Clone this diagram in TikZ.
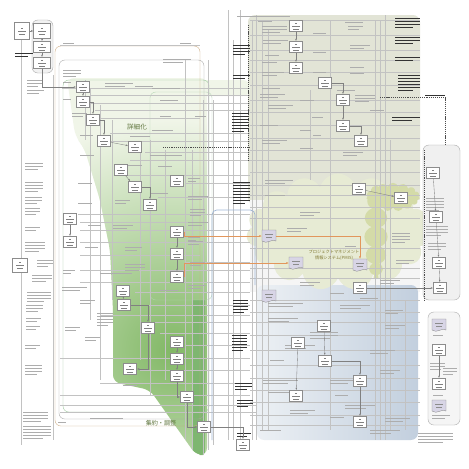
\documentclass[tikz,border=0pt]{standalone}
\usepackage{fontspec}
\newfontfamily\jp{Noto Sans CJK JP}
\usetikzlibrary{shapes.symbols,arrows.meta,positioning}

\definecolor{grnD}{RGB}{130,184,102}
\definecolor{grnL}{RGB}{240,245,232}
\definecolor{grnS}{RGB}{126,182,112}
\definecolor{greyreg}{RGB}{226,228,214}
\definecolor{bluereg}{RGB}{194,207,222}
\definecolor{bluelt}{RGB}{236,240,244}
\definecolor{cloudA}{RGB}{231,235,212}
\definecolor{cloudB}{RGB}{212,219,168}
\definecolor{tanline}{RGB}{205,172,128}
\definecolor{orngline}{RGB}{226,150,92}
\definecolor{bluline}{RGB}{160,183,214}
\definecolor{docfill}{RGB}{216,213,230}
\definecolor{lblgreen}{RGB}{96,118,62}

% grey strokes standing for the small, unreadable texts
\newcommand\txtbars[5][txt]{%
  \foreach \k in {1,...,#5}{\draw[#1] (#2,{#3+3*(\k-1)}) -- ++({#4*ifthenelse(\k==#5,0.7,1)},0);}}

\tikzset{docu/.pic={
  \draw[black!45,fill=docfill,line width=0.3pt] (-7,-6) -- (7,-6) -- (7,5) .. controls (3,2) and (-2,9) .. (-7,5) -- cycle;
  \draw[black!45,line width=0.4pt] (-4,-2) -- (4,-2) (-3,1) -- (3,1);
  \coordinate (-w) at (-7,0); \coordinate (-e) at (7,0); \coordinate (-n) at (0,-6);
}}

\begin{document}
\begin{tikzpicture}[x=0.03cm,y=-0.03cm,
  txt/.style={black!32,line width=0.5pt},
  dtxt/.style={black!80,line width=0.65pt},
  proc/.style={draw=black!45,fill=white,line width=0.3pt,minimum width=0.4cm,minimum height=0.34cm,inner sep=0pt,
    path picture={\draw[black!50,line width=0.4pt]
      ([xshift=-1pt,yshift=2.6pt]path picture bounding box.center) -- ++(2pt,0)
      ([xshift=-3.2pt]path picture bounding box.center) -- ++(6.4pt,0)
      ([xshift=-2.6pt,yshift=-2.4pt]path picture bounding box.center) -- ++(5.2pt,0);}},
  conn/.style={black!50,line width=0.3pt,-{Latex[length=0.7mm,width=0.5mm]}},
  hline/.style={black!24,line width=0.2pt},
  frame/.style={black!35,line width=0.3pt,rounded corners=5pt},
  orng/.style={orngline,line width=0.5pt,-{Latex[length=0.8mm,width=0.6mm]}},
  dashln/.style={black!70,line width=0.45pt,dash pattern=on 1pt off 0.8pt},
  puff/.style={cloud,cloud puffs=15,cloud ignores aspect,draw=none,inner sep=0pt}]
\useasboundingbox (0,0) rectangle (469,469);
\fill[white] (0,0) rectangle (469,469);

% areas on the right
\fill[greyreg,rounded corners=6pt] (248,15) rectangle (420,205);
\fill[black!4] (250,200) rectangle (420,292);
\shade[left color=bluelt,right color=bluereg,rounded corners=6pt] (257,285) rectangle (418,440);
\node[puff,fill=cloudA,minimum width=5.5cm,minimum height=3.5cm] (pmiscloud) at (338,232) {};
\node[puff,fill=cloudB,minimum width=0.7cm,minimum height=2.8cm] (cloudv) at (376,232) {};
\node[puff,fill=cloudB,minimum width=1.6cm,minimum height=0.85cm] (cloudh) at (393,197) {};
\draw[frame,fill=black!6] (423,145) rectangle (460,300);
\draw[frame,fill=black!4] (428,312) rectangle (460,425);

% green area
\begin{scope}
\clip[rounded corners=6pt] (67,78) -- (207,78) -- (207,455) -- (196,455) -- (150,390) -- (113,382)
  -- (113,310) -- (110,250) -- (100,200) -- (85,150) -- (75,135) -- cycle;
\fill[grnL] (0,0) rectangle (469,469);
\shade[inner color=grnD,outer color=grnL] (172,350) circle (230);
\fill[grnS] (192,300) rectangle (205,455);
\end{scope}
\fill[grnL,rounded corners=6pt] (150,80) rectangle (250,96);

% frames
\draw[frame,fill=black!5] (32,20) rectangle (53,73);
\draw[frame,tanline] (55,46) rectangle (200,426);
\draw[frame] (59,60) rectangle (204,419);
\draw[frame,green!45!black!40] (63,80) rectangle (209,412);
\draw[frame,green!45!black!30] (150,92) rectangle (212,300);

% lines
\foreach \y/\a/\b in {45/60/200,88/62/250,95/90/250,103/90/250,110/95/250,118/100/200,133/110/250,
  141/111/250,152/145/250,160/130/250,175/128/250,183/185/250,197/158/250,214/78/250,222/80/195,
  230/80/250,242/80/250,255/80/200,262/185/250,270/80/250,282/80/250,292/135/250,305/135/250,
  315/100/250,322/155/250,333/160/250,345/185/250,358/60/250,370/140/250,383/100/250,395/60/250,
  405/60/257,412/60/257}
  \draw[hline] (\a,\y) -- (\b,\y);
\foreach \y in {20,35,50,60,72,85,100,112,125,138,150,160,172,185,195,207,218,248,268,278,
  300,312,322,335,350,365,378,390,402,415,425}
  \draw[hline] (250,\y) -- (420,\y);
\foreach \x/\a/\b in {21/40/445,53/75/440,85/80/140,90/88/320,100/105/380,112/120/300,140/150/360,
  150/140/395,165/150/380,185/60/440,192/150/450,203/100/455,208/60/450,213/100/445,228/10/440,
  233/40/440,240/10/440,252/20/440,256/15/440,262/20/430,268/30/430,310/90/180,330/20/430,
  375/20/440,380/20/440,385/15/440,390/140/430,405/300/430}
  \draw[hline] (\x,\a) -- (\x,\b);
\draw[bluline,line width=0.6pt,rounded corners=4pt] (212,440) |- (255,210) -- (255,285);
\draw[dashln] (163,147) -- (250,147);
\draw[dashln] (380,97) -- (445,97) -- (445,145);
\draw[dashln] (424,150) -- (424,300);
\draw[dashln] (248,25) -- (248,160);

% small texts
\foreach \x/\y/\w/\n in {27/80/16/3,27/90/17/2,25/163/18/3,25/182/18/4,25/197/17/3,25/208/15/3,
  25/227/15/2,25/242/20/4,37/260/16/3,32/275/20/3,27/292/24/4,26/305/17/3,26/318/15/2,26/326/14/2,
  25/345/15/2,25/365/17/4,23/412/25/4,23/426/28/5,
  63/43/15/1,63/70/18/3,63/82/12/1,105/83/28/2,135/86/25/1,63/99/12/1,72/113/15/2,80/135/18/1,
  130/136/28/1,80/155/20/1,128/165/20/1,78/183/20/1,78/203/20/1,115/200/15/2,113/225/20/2,
  88/225/18/1,85/247/18/1,125/247/17/2,125/264/20/3,100/273/45/1,63/270/12/2,62/287/25/2,
  80/300/15/2,97/313/16/5,65/327/15/2,85/337/15/2,123/385/20/1,90/418/47/1,58/422/12/1,
  180/43/15/1,163/59/28/2,152/88/40/1,160/100/25/1,160/116/15/1,195/116/15/1,152/130/30/1,
  150/155/45/1,158/166/20/1,188/178/12/2,150/193/25/1,188/196/20/2,190/209/15/3,188/222/20/2,
  188/237/12/2,188/241/15/2,190/262/15/2,188/285/18/2,160/290/25/1,
  237/16/75/1,258/21/20/1,262/26/25/3,263/40/25/2,265/55/20/1,262/62/22/1,262/72/22/2,
  262/88/25/1,260/94/25/2,268/105/25/2,300/100/20/1,260/125/25/1,300/130/15/1,262/140/25/2,
  300/148/18/1,345/22/25/1,348/26/15/2,313/33/18/1,313/52/18/1,313/72/18/1,350/45/20/2,
  350/67/20/1,350/73/20/1,337/90/25/1,355/95/20/3,370/110/20/1,343/152/20/2,312/117/15/1,
  313/135/12/1,265/180/28/2,265/195/28/1,287/228/20/2,300/212/20/2,345/246/15/1,300/282/20/2,
  330/293/20/1,392/233/18/4,396/260/18/2,380/280/20/2,
  426/175/18/1,426/198/18/5,426/226/22/4,428/243/18/3,433/335/14/1,430/363/15/3,443/368/14/3,
  433/395/14/1,432/415/18/2,418/433/35/4,
  268/303/35/2,268/318/30/2,285/345/30/2,270/360/20/1,263/380/35/2,268/392/30/1,290/410/25/2,
  260/430/30/1,310/332/28/3,340/305/30/2,360/298/25/1,385/310/18/2,385/325/20/2,370/350/25/2,
  380/370/20/2,330/380/25/2,335/395/18/1,345/405/30/2,330/417/20/1,385/418/25/2,370/430/30/2}
  {\txtbars{\x}{\y}{\w}{\n}}
\foreach \x/\y/\w/\n in {15/53/18/2,233/45/17/4,233/75/17/2,232/113/17/7,233/182/17/8,233/300/15/5,
  232/335/15/6,235/383/17/3,237/400/16/3,237/433/14/2,395/18/25/4,395/37/25/3,395/57/25/2,
  398/75/22/6,392/117/28/2,425/95/28/1}
  {\txtbars[dtxt]{\x}{\y}{\w}{\n}}

% process boxes
\node[proc,minimum width=0.45cm,minimum height=0.5cm] (a1) at (22,31) {};
\node[proc,minimum width=0.5cm,minimum height=0.45cm] (a2) at (42,31) {};
\node[proc,minimum width=0.5cm] (a3) at (42,47) {};
\node[proc,minimum width=0.5cm] (a4) at (42,63) {};
\node[proc,minimum width=0.45cm,minimum height=0.42cm] (lbox) at (20,265) {};
\foreach \n/\x/\y in {p1/83/87,p2/83/102,p3/93/120,p4/104/141,p5/135/147,p6/121/170,p7/135/187,
  p8/150/205,p9/70/219,p10/70/242,p11/123/291,p12/124/305,p13/148/328,p14/130/369,
  q1/177/181,q3/177/232,q4/177/254,q5/177/277,q6/177/342,q7/177/359,q8/177/376,q9/187/397,
  q10/204/427,q11/243/445,
  r1/296/26,r2/296/47,r3/296/68,r4/325/83,r5/343/100,r6/343/126,r7/361/141,r8/359/189,
  r9/401/198,r10/433/173,r11/436/217,r12/439/263,r13/360/288,r14/440/288,
  s1/298/343,s2/296/396,s3/324/326,s4/325/361,s5/360/381,s6/360/422,t1/439/350,t2/439/384}
  \node[proc] (\n) at (\x,\y) {};
\pic (d1) at (269,236) {docu};
\pic (d2) at (296,263) {docu};
\pic (d3) at (269,296) {docu};
\pic (d4) at (360,265) {docu};
\pic (d5) at (439,325) {docu};
\pic (d6) at (439,406) {docu};

% connectors
\draw[conn] (a1) -- (a2);
\draw[conn] (a2) -- (a3);
\draw[conn] (a3) -- (a4);
\draw[conn] (a4.south) |- (p1.west);
\draw[conn] (p1) -- (p2);
\draw[conn] (p2.east) -| (p3.north);
\draw[conn] (p3.east) -| (p4.north);
\draw[conn] (p4) -- (p5);
\draw[conn] (p6) -- (p7);
\draw[conn] (p7.east) -| (p8.north);
\draw[conn] (p9) -- (p10);
\draw[conn] (p11) -- (p12);
\draw[conn] (p12.east) -| (p13.north);
\draw[conn] (p13.south) |- (p14.east);
\draw[conn] (q3) -- (q4);
\draw[conn] (q4) -- (q5);
\draw[conn] (q6) -- (q7);
\draw[conn] (q7) -- (q8);
\draw[conn] (q8.south) |- (q9.west);
\draw[conn] (q9.south) |- (q10.west);
\draw[conn] (q10.east) -| (q11.north);
\draw[conn] (r1) -- (r2);
\draw[conn] (r2) -- (r3);
\draw[conn] (r4.east) -| (r5.north);
\draw[conn] (r5) -- (r6);
\draw[conn] (r6.east) -| (r7.north);
\draw[conn] (r8) -- (r9);
\draw[conn] (r10) -- (r11);
\draw[conn] (r11) -- (r12);
\draw[conn] (r12) -- (r14);
\draw[conn] (r13) -- (r14);
\draw[conn] (s1) -- (s2);
\draw[conn] (s3) -- (s4);
\draw[conn] (s4.east) -| (s5.north);
\draw[conn] (s5) -- (s6);
\draw[conn] (t1) -- (t2);
\draw[orng] (q3.east) |- (d1-w);
\draw[orng] (q5.east) |- (d2-w);
\draw[orng] (d1-e) -| (d4-n);

% labels
\node[font=\jp\fontsize{5.6}{6}\selectfont,text=lblgreen] (shousai) at (137,127) {詳細化};
\node[font=\jp\fontsize{5.2}{6}\selectfont,text=lblgreen] (shuyaku) at (161,423) {集約・調整};
\node[font=\jp\fontsize{3.6}{4.6}\selectfont,text=lblgreen!80!orange,align=center,inner sep=0pt] (pmis) at (334,255)
  {プロジェクトマネジメント\\情報システム(PMIS)};
\end{tikzpicture}
\end{document}
